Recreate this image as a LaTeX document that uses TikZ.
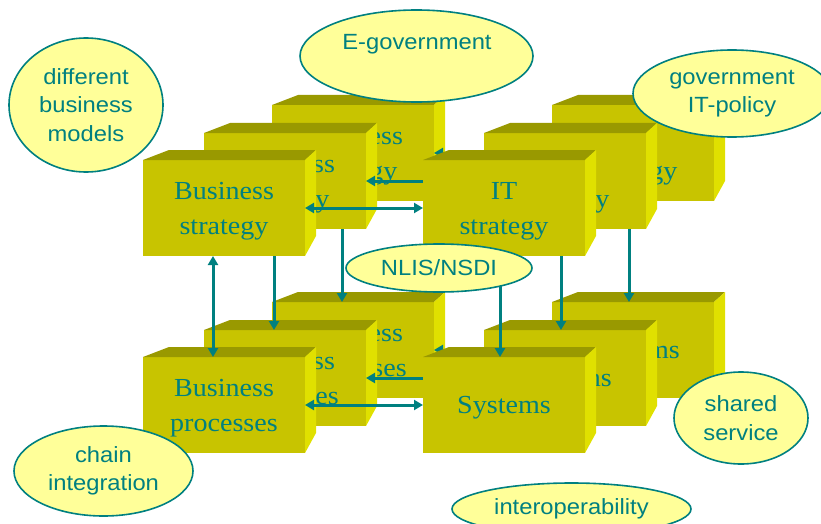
\documentclass[tikz,border=0pt]{standalone}
\usepackage{fontspec}
\setmainfont{Liberation Serif}[FakeStretch=1.08]
\newfontfamily\ellfont{Liberation Sans}[FakeStretch=1.08]
\usetikzlibrary{arrows.meta,shapes.geometric}
\definecolor{tealc}{RGB}{0,128,128}
\definecolor{boxfront}{RGB}{200,196,0}
\definecolor{boxtop}{RGB}{153,153,0}
\definecolor{boxside}{RGB}{224,224,0}
\definecolor{ellfill}{RGB}{255,255,153}
\tikzset{
  ah/.tip={Triangle[length=9pt,width=10pt]},
  face/.style={fill=boxfront, minimum width=162pt, minimum height=96pt, inner sep=0pt, outer sep=0pt, anchor=north west},
  facetext/.style={align=center, yshift=-3pt, text=tealc, font=\fontsize{26}{35}\selectfont, inner sep=0pt},
  topface/.style={fill=boxtop},
  sideface/.style={fill=boxside},
  link/.style={draw=tealc, line width=3pt, ah-ah},
  bubble/.style={ellipse, draw=tealc, line width=1.6pt, fill=ellfill, inner sep=0pt, text=tealc, font=\ellfont\fontsize{22}{28.5}\selectfont, align=center},
  bubtext/.style={text=tealc, font=\ellfont\fontsize{22}{28.5}\selectfont, inner sep=0pt},
}
\newcommand\cuboid[4]{%
  \node[face, label={[facetext]center:{#4}}] (#1) at (#2,#3) {};
  \fill[topface] (#1.north west) -- (#1.north east) -- ([shift={(11pt,10pt)}]#1.north east) -- ([shift={(26pt,10pt)}]#1.north west) -- cycle;
  \fill[sideface] (#1.north east) -- ([shift={(11pt,10pt)}]#1.north east) -- ([shift={(11pt,20pt)}]#1.south east) -- (#1.south east) -- cycle;
}
\newcommand\layerlinks[4]{%
  \draw[link] (#1.east) -- (#2.west);
  \draw[link] (#3.east) -- (#4.west);
  \draw[link] ([xshift=70pt]#1.south west) -- ([xshift=70pt]#3.north west);
  \draw[link] ([xshift=77pt]#2.south west) -- ([xshift=77pt]#4.north west);
}
\begin{document}
\begin{tikzpicture}[x=1pt,y=-1pt]
\useasboundingbox (0,0) rectangle (821,524);
\clip (0,0) rectangle (821,524);
% back layer
\cuboid{bsC}{272}{105}{Business\\strategy}
\cuboid{itC}{552}{105}{IT\\strategy}
\cuboid{bpC}{272}{302}{Business\\processes}
\cuboid{syC}{552}{302}{Systems}
\layerlinks{bsC}{itC}{bpC}{syC}
% middle layer
\cuboid{bsB}{204}{133}{Business\\strategy}
\cuboid{itB}{484}{133}{IT\\strategy}
\cuboid{bpB}{204}{330}{Business\\processes}
\cuboid{syB}{484}{330}{Systems}
\layerlinks{bsB}{itB}{bpB}{syB}
% front layer
\cuboid{bsA}{143}{160}{Business\\strategy}
\cuboid{itA}{423}{160}{IT\\strategy}
\cuboid{bpA}{143}{357}{Business\\processes}
\cuboid{syA}{423}{357}{Systems}
\layerlinks{bsA}{itA}{bpA}{syA}
% bubbles
\node[bubble, minimum width=154pt, minimum height=134pt] (dbm) at (86,105) {different\\business\\models};
\node[bubble, minimum width=233pt, minimum height=92pt] (egov) at (416.5,56) {};
\node[bubtext] (egovtext) at (417,44) {E-government};
\node[bubble, minimum width=198pt, minimum height=87pt] (itpol) at (732,93.5) {government\\IT-policy};
\node[bubble, minimum width=186pt, minimum height=48pt] (nlis) at (439,268) {NLIS/NSDI};
\node[bubble, minimum width=134pt, minimum height=92pt] (shared) at (741,418) {shared\\service};
\node[bubble, minimum width=179pt, minimum height=90pt] (chain) at (103.5,471) {chain\\integration};
\node[bubble, minimum width=239pt, minimum height=52pt] (interop) at (571.5,509) {interoperability};
\end{tikzpicture}
\end{document}
